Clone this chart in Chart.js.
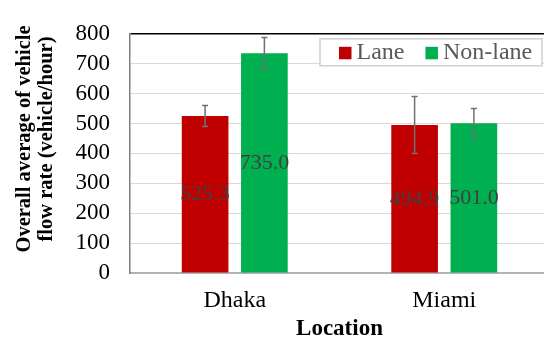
<!DOCTYPE html>
<html>
<head>
<meta charset="utf-8">
<script src="https://cdn.jsdelivr.net/npm/chart.js@4/dist/chart.umd.min.js"></script>
<style>
  html, body { margin: 0; padding: 0; background: #fff; overflow: hidden; }
  #wrap { width: 552px; height: 341px; }
</style>
</head>
<body>
<div id="wrap"><canvas id="chart" width="552" height="341"></canvas></div>
<script>
// Average vehicle flow rate by location, lane vs. non-lane traffic
const locations = ['Dhaka', 'Miami'];
const seriesNames = ['Lane', 'Non-lane'];
const laneFlow = [525.3, 494.9];
const nonLaneFlow = [735.0, 501.0];
const laneError = [35, 95];
const nonLaneError = [53, 49];
const yTickValues = [0, 100, 200, 300, 400, 500, 600, 700, 800];
const yTitleLines = ['Overall average of vehicle', 'flow rate (vehicle/hour)'];

const seriesColors = ['#C00000', '#00B050'];
const errorSeries = [laneError, nonLaneError];
const serif = "'Liberation Serif', 'Times New Roman', serif";

Chart.defaults.font.family = serif;

// symmetric error bars centred on each bar
const errorBars = {
  id: 'errorBars',
  afterDatasetsDraw(chart) {
    const { ctx } = chart;
    const yScale = chart.scales.y;
    ctx.save();
    ctx.strokeStyle = '#707070';
    ctx.lineWidth = 1.5;
    chart.data.datasets.forEach((ds, i) => {
      chart.getDatasetMeta(i).data.forEach((bar, j) => {
        const v = ds.data[j];
        const e = errorSeries[i][j];
        const yTop = yScale.getPixelForValue(v + e);
        const yBot = yScale.getPixelForValue(v - e);
        const x = bar.x;
        ctx.beginPath();
        ctx.moveTo(x, yTop); ctx.lineTo(x, yBot);
        ctx.moveTo(x - 3, yTop); ctx.lineTo(x + 3, yTop);
        ctx.moveTo(x - 3, yBot); ctx.lineTo(x + 3, yBot);
        ctx.stroke();
      });
    });
    ctx.restore();
  }
};

// value written in the middle of each bar
const valueLabels = {
  id: 'valueLabels',
  afterDatasetsDraw(chart) {
    const { ctx } = chart;
    ctx.save();
    ctx.font = '22px ' + serif;
    ctx.fillStyle = '#404040';
    ctx.textAlign = 'center';
    ctx.textBaseline = 'middle';
    chart.data.datasets.forEach((ds, i) => {
      chart.getDatasetMeta(i).data.forEach((bar, j) => {
        ctx.fillText(ds.data[j].toFixed(1), bar.x, (bar.y + bar.base) / 2);
      });
    });
    ctx.restore();
  }
};

// two-line rotated title for the value axis
const yAxisTitle = {
  id: 'yAxisTitle',
  afterDraw(chart) {
    const { ctx } = chart;
    ctx.save();
    ctx.font = 'bold 20.5px ' + serif;
    ctx.fillStyle = '#000';
    ctx.textAlign = 'center';
    ctx.textBaseline = 'alphabetic';
    ctx.translate(0, 139);
    ctx.rotate(-Math.PI / 2);
    yTitleLines.forEach((line, k) => ctx.fillText(line, 0, 30 + k * 22));
    ctx.restore();
  }
};

// framed legend in the top-right corner of the plot
const boxLegend = {
  id: 'boxLegend',
  afterDraw(chart) {
    const { ctx, chartArea } = chart;
    const left = 320, top = chartArea.top + 5;
    const right = chartArea.right - 7, height = 27;
    ctx.save();
    ctx.fillStyle = '#fff';
    ctx.fillRect(left, top, right - left, height);
    ctx.strokeStyle = '#d0d0d0';
    ctx.lineWidth = 1.5;
    ctx.strokeRect(left, top, right - left, height);
    ctx.font = '24px ' + serif;
    ctx.textBaseline = 'alphabetic';
    ctx.textAlign = 'left';
    let x = left + 19;
    chart.data.datasets.forEach((ds) => {
      ctx.fillStyle = ds.backgroundColor;
      ctx.fillRect(x, top + 8, 12.5, 12.5);
      x += 17.5;
      ctx.fillStyle = '#595959';
      ctx.fillText(ds.label, x, top + 20.5);
      x += ctx.measureText(ds.label).width + 21;
    });
    ctx.restore();
  }
};

new Chart(document.getElementById('chart'), {
  type: 'bar',
  data: {
    labels: locations,
    datasets: [
      { label: seriesNames[0], data: laneFlow, backgroundColor: seriesColors[0] },
      { label: seriesNames[1], data: nonLaneFlow, backgroundColor: seriesColors[1] }
    ]
  },
  options: {
    responsive: false,
    animation: false,
    devicePixelRatio: 1,
    layout: { padding: { top: 18, right: 3, left: 0, bottom: 0 } },
    datasets: { bar: { categoryPercentage: 0.566, barPercentage: 0.787 } },
    plugins: {
      legend: { display: false },
      tooltip: { enabled: false }
    },
    scales: {
      x: {
        grid: { display: false, drawTicks: false },
        border: { color: '#b3b3b3', width: 2 },
        ticks: { color: '#000', font: { size: 24 }, padding: 13 },
        title: {
          display: true, text: 'Location', color: '#000', padding: 0,
          font: { size: 23, weight: 'bold', lineHeight: 1 }
        },
        afterFit(scale) { scale.height = 68; }
      },
      y: {
        min: 0, max: 800,
        afterBuildTicks(scale) { scale.ticks = yTickValues.map(v => ({ value: v })); },
        ticks: { color: '#000', font: { size: 23 }, padding: 20, autoSkip: false },
        grid: {
          drawTicks: false,
          color: c => (c.tick && c.tick.value === 800 ? '#000' : '#d9d9d9'),
          lineWidth: c => (c.tick && c.tick.value === 800 ? 1.5 : 1)
        },
        border: { color: '#808080', width: 1.5 },
        afterFit(scale) { scale.width = 130; }
      }
    }
  },
  plugins: [errorBars, valueLabels, yAxisTitle, boxLegend]
});
</script>
</body>
</html>
